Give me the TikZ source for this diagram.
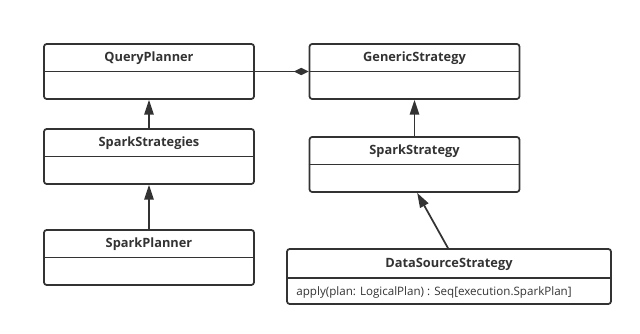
\documentclass[tikz,border=0pt]{standalone}
\usepackage{fontspec}
\setmainfont{Open Sans}
\usetikzlibrary{calc}
\usetikzlibrary{arrows.meta}

\definecolor{umlgray}{HTML}{333333}

\tikzset{
    classbox/.style={draw=umlgray, line width=1.3pt, rounded corners=2pt, minimum width=157.5pt, minimum height=41.25pt, inner sep=0pt},
    classname/.style={font=\bfseries\fontsize{9.6}{11}\selectfont, text=umlgray},
    classop/.style={font=\fontsize{8.7}{10}\selectfont, text=umlgray, anchor=west, inner sep=0pt},
    divider/.style={draw=umlgray, line width=1.4pt},
    inherit/.style={draw=umlgray, line width=1.3pt, -{Triangle[length=11pt, width=7pt]}},
    compose/.style={draw=umlgray, line width=1.4pt, -{Diamond[length=11pt, width=5.5pt]}},
}

\begin{document}
\begin{tikzpicture}[x=0.75pt, y=-0.75pt]
    \useasboundingbox (0, 0) rectangle (640, 334);
    
    % class boxes
    \node [classbox] (qp) at (149, 71.5) {};
    \node [classbox] (gs) at (414.5, 71.5) {};
    \node [classbox] (sst) at (149, 156.5) {};
    \node [classbox] (ss) at (414.5, 164.5) {};
    \node [classbox] (sp) at (149, 257.5) {};
    \node [classbox, minimum width=243pt] (ds) at (449, 276.5) {};
    
    \draw [divider] (qp.west) -- (qp.east);
    \draw [divider] (gs.west) -- (gs.east);
    \draw [divider] (sst.west) -- (sst.east);
    \draw [divider] (ss.west) -- (ss.east);
    \draw [divider] (sp.west) -- (sp.east);
    \draw [divider] ($(ds.west)+(0, 1.5)$) -- ($(ds.east)+(0, 1.5)$);
    
    \node [classname] (qp-name) at ($(qp.north)!0.5!(qp.center)+(0, 1)$) {QueryPlanner};
    \node [classname] (gs-name) at ($(gs.north)!0.5!(gs.center)+(0, 1)$) {GenericStrategy};
    \node [classname] (sst-name) at ($(sst.north)!0.5!(sst.center)+(0, 1)$) {SparkStrategies};
    \node [classname] (ss-name) at ($(ss.north)!0.5!(ss.center)+(0, 1)$) {SparkStrategy};
    \node [classname] (sp-name) at ($(sp.north)!0.5!(sp.center)+(0, 1)$) {SparkPlanner};
    \node [classname] (ds-name) at ($(ds.north)!0.5!(ds.center)+(0, 2)$) {DataSourceStrategy};
    
    \node [classop] (ds-op) at ($(ds.south west)!0.45!(ds.west)+(10, 0)$) {apply(plan: LogicalPlan) : Seq[execution.SparkPlan]};
    
    % relations
    \draw [compose] (qp.east) -- (gs.west);
    \draw [inherit] (sst.north) -- (qp.south);
    \draw [inherit] (sp.north) -- (sst.south);
    \draw [inherit] (ss.north) -- (gs.south);
    \draw [inherit] ([xshift=-0.75pt]ds.north) -- ([xshift=2pt]ss.south);
    
\end{tikzpicture}
\end{document}
